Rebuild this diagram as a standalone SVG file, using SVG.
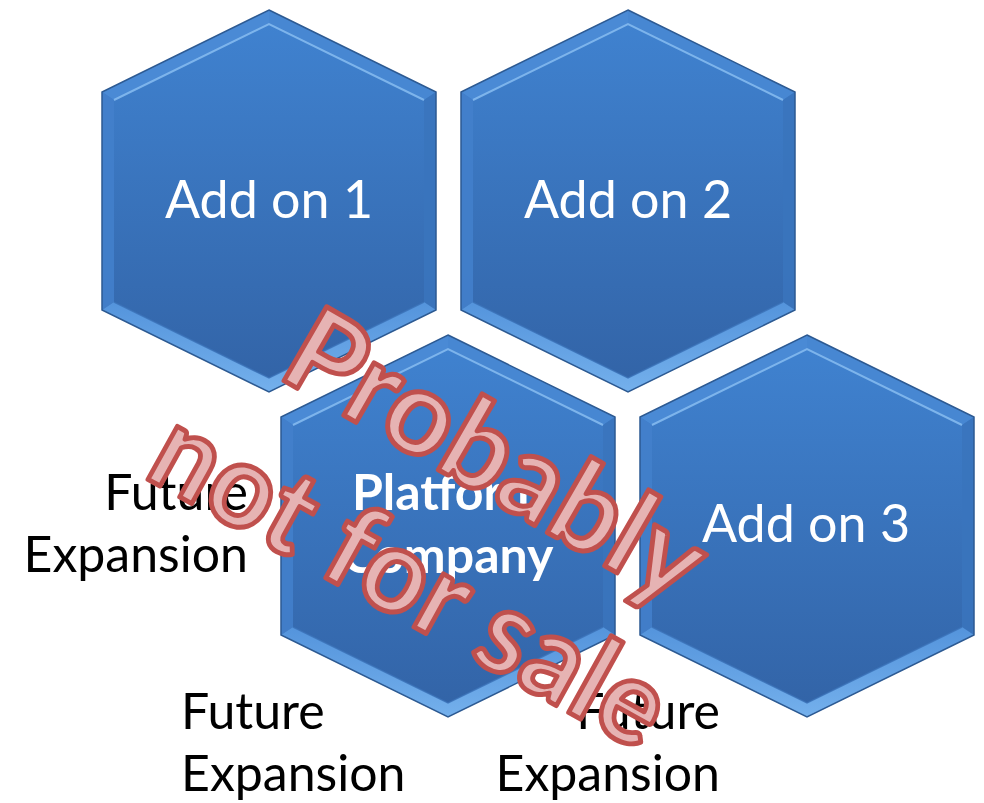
<svg xmlns="http://www.w3.org/2000/svg" xmlns:xlink="http://www.w3.org/1999/xlink" width="984" height="803" viewBox="0 0 984 803">
  <style>
    .lbl { font-family: Lato, "Open Sans", "Liberation Sans", sans-serif; font-size: 52px; fill: #ffffff; text-anchor: middle; }
    .bold { font-weight: bold; font-size: 50px; }
    .fut { font-family: Lato, "Open Sans", "Liberation Sans", sans-serif; font-size: 50px; fill: #000000; }
    .wm { font-family: Lato, "Open Sans", "Liberation Sans", sans-serif; font-weight: bold; font-size: 118px; fill: #e6b3b3; stroke: #c0504d; stroke-width: 5; stroke-linejoin: round; letter-spacing: 1px; }
  </style>
  <defs>
    <linearGradient id="body" x1="0" y1="0" x2="0" y2="1">
      <stop offset="0" stop-color="#4083d1"/>
      <stop offset="1" stop-color="#3263a6"/>
    </linearGradient>
    <linearGradient id="botband" x1="0" y1="0" x2="0" y2="1">
      <stop offset="0" stop-color="#5494dc"/>
      <stop offset="1" stop-color="#74b0ec"/>
    </linearGradient>
    <g id="hex">
      <path d="M0,-191 L167,-109 L167,109 L0,191 L-167,109 L-167,-109 Z" fill="url(#body)"/>
      <path d="M-167,-109 L0,-191 L0,-177 L-155,-101 Z" fill="#4a8ad5"/>
      <path d="M0,-191 L167,-109 L155,-101 L0,-177 Z" fill="#4787d2"/>
      <path d="M167,-109 L167,109 L155,101 L155,-101 Z" fill="#3a74bd" opacity="0.9"/>
      <path d="M-167,109 L-167,-109 L-155,-101 L-155,101 Z" fill="#4280cb" opacity="0.9"/>
      <path d="M167,109 L0,191 L0,177 L155,101 Z" fill="url(#botband)"/>
      <path d="M0,191 L-167,109 L-155,101 L0,177 Z" fill="url(#botband)"/>
      <path d="M-155,-101 L0,-177 L155,-101" fill="none" stroke="#8cc1f2" stroke-width="2" opacity="0.8"/>
      <path d="M-155,101 L0,177 L155,101" fill="none" stroke="#3a70b6" stroke-width="1.5" opacity="0.8"/>
      <path d="M0,-191 L167,-109 L167,109 L0,191 L-167,109 L-167,-109 Z" fill="none" stroke="#2d5a92" stroke-width="1.5"/>
    </g>
  </defs>

  <g id="connectors"></g>

  <g id="addon1">
    <use xlink:href="#hex" href="#hex" transform="translate(269,201)"/>
    <text class="lbl" x="269" y="218">Add on 1</text>
  </g>
  <g id="addon2">
    <use xlink:href="#hex" href="#hex" transform="translate(628,201)"/>
    <text class="lbl" x="628" y="218">Add on 2</text>
  </g>
  <g id="platform">
    <use xlink:href="#hex" href="#hex" transform="translate(448,526)"/>
    <text class="lbl bold" x="448" y="510">Platform</text>
    <text class="lbl bold" x="448" y="573">Company</text>
  </g>
  <g id="addon3">
    <use xlink:href="#hex" href="#hex" transform="translate(807,526)"/>
    <text class="lbl" x="806" y="542">Add on 3</text>
  </g>

  <g id="future-left">
    <text class="fut" x="248" y="510" text-anchor="end">Future</text>
    <text class="fut" x="248" y="572" text-anchor="end">Expansion</text>
  </g>
  <g id="future-bottom-left">
    <text class="fut" x="181" y="729">Future</text>
    <text class="fut" x="181" y="791">Expansion</text>
  </g>
  <g id="future-bottom-right">
    <text class="fut" x="720" y="729" text-anchor="end">Future</text>
    <text class="fut" x="720" y="791" text-anchor="end">Expansion</text>
  </g>

  <g id="watermark">
    <text class="wm" transform="translate(276,376) rotate(30) scale(0.975,1)">Probably</text>
    <text class="wm" transform="translate(142,476) rotate(29) scale(0.95,1)">not for sale</text>
  </g>
</svg>
